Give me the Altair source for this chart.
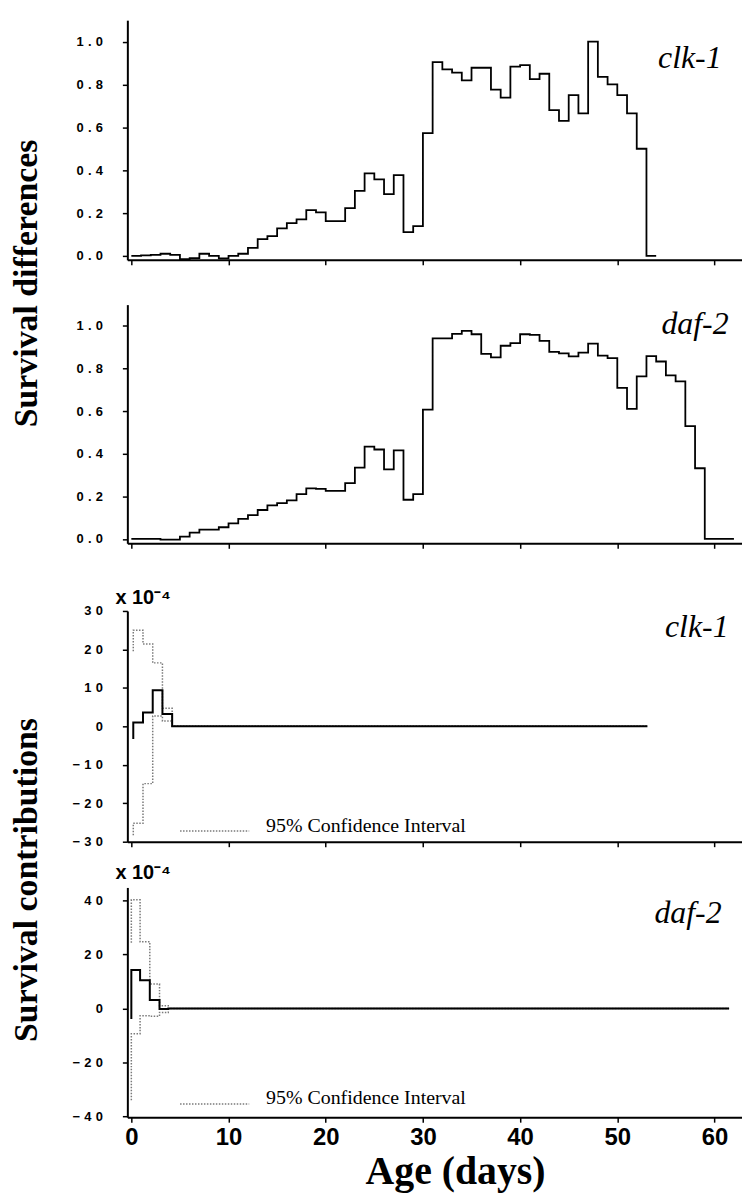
import altair as alt
import pandas as pd

# ---------------- data ----------------
clk1_days = list(range(0, 55))
clk1_diff = [0.0, 0.002, 0.005, 0.01, 0.005, -0.015, -0.01, 0.01, 0.0, -0.012,
             0.0, 0.01, 0.037, 0.078, 0.092, 0.128, 0.153, 0.17, 0.214, 0.203,
             0.162, 0.162, 0.223, 0.303, 0.385, 0.357, 0.288, 0.377, 0.111, 0.139,
             0.573, 0.904, 0.87, 0.855, 0.819, 0.878, 0.878, 0.776, 0.739, 0.883,
             0.89, 0.825, 0.85, 0.68, 0.63, 0.75, 0.665, 1.0, 0.835, 0.80,
             0.75, 0.665, 0.50, 0.0, 0.0]

daf2_days = list(range(0, 63))
daf2_diff = [0.0, 0.0, 0.0, -0.003, -0.003, 0.011, 0.03, 0.044, 0.044, 0.055,
             0.073, 0.094, 0.112, 0.136, 0.158, 0.168, 0.181, 0.21, 0.237, 0.235,
             0.226, 0.226, 0.262, 0.335, 0.433, 0.42, 0.327, 0.416, 0.184, 0.21,
             0.607, 0.942, 0.942, 0.963, 0.977, 0.961, 0.869, 0.852, 0.907, 0.919,
             0.961, 0.958, 0.93, 0.878, 0.871, 0.857, 0.875, 0.917, 0.861, 0.849,
             0.709, 0.611, 0.763, 0.858, 0.833, 0.768, 0.74, 0.53, 0.332, 0.0,
             0.0, 0.0, 0.0]

clk1_c_days = [0.2, 0.2, 1.2, 2.2, 3.2, 4.2, 53.1]
clk1_c_mid = [-3.3, 1.0, 3.6, 9.4, 3.2, 0.0, 0.0]
clk1_c_up = [19.5, 25.0, 21.4, 16.5, 4.7, 0.0, 0.0]
clk1_c_lo = [-28.3, -25.2, -14.9, 2.7, 1.4, 0.0, 0.0]

daf2_c_days = [0.0, 0.0, 0.9, 1.9, 2.9, 3.8, 61.5]
daf2_c_mid = [-3.9, 14.2, 10.4, 3.1, -0.2, 0.0, 0.0]
daf2_c_up = [24.3, 40.2, 24.7, 9.0, 1.0, 0.0, 0.0]
daf2_c_lo = [-34.0, -9.4, -2.7, -2.9, -1.5, 0.0, 0.0]

x_ticks = [0, 10, 20, 30, 40, 50, 60]
diff_ticks = [0.0, 0.2, 0.4, 0.6, 0.8, 1.0]
clk1_c_ticks = [-30, -20, -10, 0, 10, 20, 30]
daf2_c_ticks = [-40, -20, 0, 20, 40]

# ---------------- style ----------------
W = 618
SANS = "Liberation Sans Narrow, Arial Narrow, Liberation Sans, Arial"
SERIF = "Liberation Serif, Times New Roman, serif"
SP = "\u2004"

XDOM = [-0.41, 62.83]


def xaxis(labels):
    return alt.Axis(values=x_ticks, labels=labels, title=None, grid=False,
                    domainColor="black", domainWidth=2, tickColor="black",
                    tickWidth=1.5, tickSize=5, labelFont=SANS, labelFontSize=24,
                    labelFontWeight="bold", labelColor="black", labelPadding=3,
                    labelOverlap=False, tickCount=7)


def yaxis(vals, fmt):
    return alt.Axis(values=vals, title=None, grid=False, tickCount=len(vals),
                    labelExpr=f"join(split(format(datum.value, '{fmt}'), ''), '{SP}')",
                    domainColor="black", domainWidth=2, tickColor="black",
                    tickWidth=1.5, tickSize=5, labelFont=SANS, labelFontSize=13,
                    labelFontWeight="bold", labelColor="black", labelPadding=20,
                    labelOverlap=False)


def one(**kw):
    return pd.DataFrame({k: [v] for k, v in kw.items()})


def gene_label(name, x, y):
    return alt.Chart(one(t=name)).mark_text(
        align="right", baseline="alphabetic", font=SERIF, fontStyle="italic",
        fontSize=32, color="black").encode(text="t:N", x=alt.value(x), y=alt.value(y))


def side_title(text, y):
    return alt.Chart(one(t=text)).mark_text(
        angle=270, align="center", baseline="middle", font=SERIF, fontSize=34,
        fontWeight="bold", color="black").encode(text="t:N", x=alt.value(-101),
                                               y=alt.value(y))


def diff_layers(days, vals, ydom, name, lx, ly):
    df = pd.DataFrame({"day": days, "v": vals, "i": range(len(days))})
    line = alt.Chart(df).mark_line(interpolate="step-after", color="black",
                                   strokeWidth=1.8).encode(
        x=alt.X("day:Q", scale=alt.Scale(domain=XDOM, nice=False, zero=False),
                axis=xaxis(False)),
        y=alt.Y("v:Q", scale=alt.Scale(domain=ydom, nice=False, zero=False),
                axis=yaxis(diff_ticks, ".1f")),
        order="i:Q")
    return [line, gene_label(name, lx, ly)]


def contrib_layers(days, mid, up, lo, ydom, ticks, name, lx, ly, labels, leg_y, exp_y):
    dm = pd.DataFrame({"day": days, "v": mid, "i": range(len(days))})
    rows = []
    for s, arr in (("upper", up), ("lower", lo)):
        for i, (d, v) in enumerate(zip(days, arr)):
            rows.append({"day": d, "v": v, "s": s, "i": i})
    dci = pd.DataFrame(rows)
    xs = alt.Scale(domain=XDOM, nice=False, zero=False)
    ys = alt.Scale(domain=ydom, nice=False, zero=False)
    ci = alt.Chart(dci).mark_line(interpolate="step-after", color="#7a7a7a",
                                  strokeWidth=1.5, strokeDash=[1.5, 1.5]).encode(
        x=alt.X("day:Q", scale=xs, axis=xaxis(labels)),
        y=alt.Y("v:Q", scale=ys, axis=yaxis(ticks, "d")),
        detail="s:N", order="i:Q")
    solid = alt.Chart(dm).mark_line(interpolate="step-after", color="black",
                                    strokeWidth=2).encode(
        x=alt.X("day:Q", scale=xs, axis=xaxis(labels)),
        y=alt.Y("v:Q", scale=ys, axis=yaxis(ticks, "d")), order="i:Q")
    leg_line = alt.Chart(one(a=1)).mark_rule(color="#7a7a7a", strokeWidth=1.5,
                                             strokeDash=[1.5, 1.5]).encode(
        x=alt.value(53), x2=alt.value(122.5), y=alt.value(leg_y))
    leg_text = alt.Chart(one(t="95% Confidence Interval")).mark_text(
        align="left", baseline="middle", font=SERIF, fontSize=20, color="black").encode(
        text="t:N", x=alt.value(139.5), y=alt.value(leg_y - 5.5))
    expo = alt.Chart(one(t="x 10\u207b\u2074")).mark_text(
        align="left", baseline="middle", font=SANS, fontSize=20, fontWeight="bold",
        color="black").encode(text="t:N", x=alt.value(-12), y=alt.value(exp_y))
    return [ci, solid, leg_line, leg_text, expo, gene_label(name, lx, ly)]


def spacer(h):
    return alt.Chart(one(a=1)).mark_point(opacity=0).properties(width=W, height=h)


p1 = alt.layer(*diff_layers(clk1_days, clk1_diff, [-0.0185, 1.1], "clk-1", 597.5, 48),
               side_title("Survival differences", 264.7)).properties(width=W, height=241)

p2 = alt.layer(*diff_layers(daf2_days, daf2_diff, [-0.0205, 1.1], "daf-2", 604.5, 30)
               ).properties(width=W, height=240)

p3 = alt.layer(*contrib_layers(clk1_c_days, clk1_c_mid, clk1_c_up, clk1_c_lo, [-30, 30],
                               clk1_c_ticks, "clk-1", 604.5, 26, False, 221.3, -13),
               side_title("Survival contributions", 270.5)).properties(width=W, height=232)

xtitle = alt.Chart(one(t="Age (days)")).mark_text(
    align="center", baseline="alphabetic", font=SERIF, fontSize=40,
    fontWeight="bold", color="black").encode(text="t:N", x=alt.value(330),
                                           y=alt.value(298))
p4 = alt.layer(*contrib_layers(daf2_c_days, daf2_c_mid, daf2_c_up, daf2_c_lo, [-40.3, 44.8],
                               daf2_c_ticks, "daf-2", 597.5, 36, True, 217.7, -14),
               xtitle).properties(width=W, height=231)

chart = alt.vconcat(p1, spacer(45), p2, spacer(68), p3, spacer(46), p4,
                    spacing=0, bounds="flush").properties(
    padding={"left": 2, "top": 9, "right": 0, "bottom": 3}
).configure_view(stroke=None).configure_axis(labelOverlap=False)

chart.save("out.html", embed_options={"renderer": "svg", "actions": False})
